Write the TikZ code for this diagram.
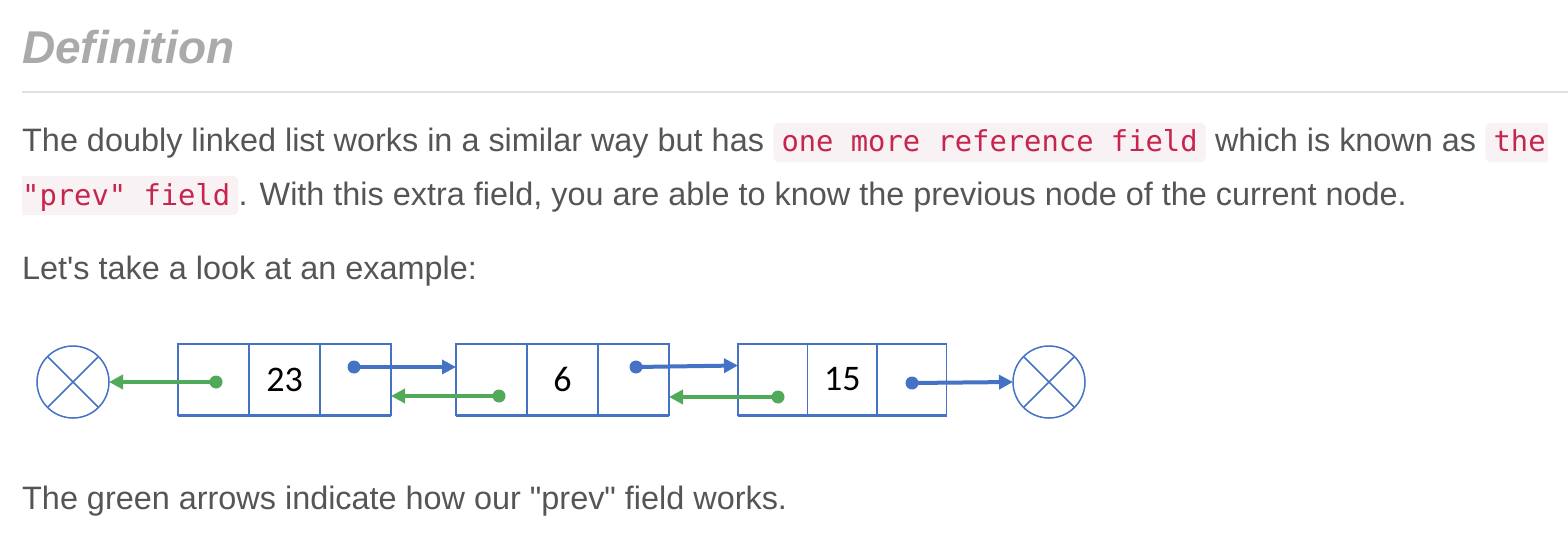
\documentclass[tikz,border=0pt]{standalone}
\usepackage{fontspec}
\usetikzlibrary{arrows.meta,positioning,backgrounds}

\newfontfamily\bodyfont{Liberation Sans}
\newfontfamily\codefont{DejaVu Sans Mono}
\newfontfamily\cellfont{Carlito}

\definecolor{textgray}{RGB}{85,85,85}
\definecolor{headgray}{RGB}{170,170,170}
\definecolor{rulegray}{RGB}{224,224,224}
\definecolor{codered}{RGB}{199,37,78}
\definecolor{codebg}{RGB}{249,242,244}
\definecolor{nodeblue}{RGB}{68,114,196}
\definecolor{prevgreen}{RGB}{80,170,90}

\tikzset{
 txt/.style={anchor=base west, inner sep=0pt, text=textgray, font=\bodyfont\fontsize{32.4}{38}\selectfont},
 chip/.style={anchor=base west, text=codered, inner sep=0pt, text height=29pt, text depth=10pt, font=\codefont\fontsize{28.8}{34}\selectfont},
 chipbg/.style={fill=codebg, rounded corners=6pt},
 cell/.style={draw=nodeblue, line width=1.5pt, minimum width=71pt, minimum height=71pt, inner sep=0pt, outer sep=0pt, font=\cellfont\fontsize{36}{40}\selectfont},
 nullnode/.style={draw=nodeblue, line width=1.5pt, circle, minimum size=72pt, inner sep=0pt, outer sep=0pt},
 nextptr/.style={draw=nodeblue, line width=4pt, -{Triangle[length=14pt,width=14pt]}},
 prevptr/.style={draw=prevgreen, line width=4pt, -{Triangle[length=14pt,width=14pt]}},
}

\begin{document}
\begin{tikzpicture}[x=1pt, y=-1pt]
 \useasboundingbox (0,0) rectangle (1568,540);

 %heading and rule
 \node[anchor=base west, inner sep=0pt, text=headgray, font=\bodyfont\bfseries\itshape\fontsize{46}{50}\selectfont] (title) at (22,64) {Definition};
 \draw[rulegray, line width=2pt] (22,92) -- (1568,92);

 %first paragraph
 \node[txt] (t1) at (22,152) {The doubly linked list works in a similar way but has};
 \node[chip] (k1) at ([xshift=17pt]t1.base east) {one more reference field};
 \node[txt] (t2) at ([xshift=17pt]k1.base east) {which is known as};
 \node[chip] (k2) at ([xshift=17pt]t2.base east) {the};
 \node[chip] (k3) at (22,205) {"prev" field};
 \node[txt] (t3) at ([xshift=8pt]k3.base east) {. With this extra field, you are able to know the previous node of the current node.};

 %code backgrounds (the last one wraps to the next line)
 \begin{scope}[on background layer]
  \fill[chipbg] ([xshift=-8pt]k1.south west) rectangle ([xshift=8pt]k1.north east);
  \begin{scope}
   \clip ([xshift=-8pt]k2.south west) rectangle ([xshift=2pt]k2.north east);
   \fill[chipbg] ([xshift=-8pt]k2.south west) rectangle ([xshift=12pt]k2.north east);
  \end{scope}
  \begin{scope}
   \clip (k3.south west) rectangle ([xshift=8pt]k3.north east);
   \fill[chipbg] ([xshift=-10pt]k3.south west) rectangle ([xshift=8pt]k3.north east);
  \end{scope}
 \end{scope}

 \node[txt] (t4) at (22,279) {Let's take a look at an example:};
 \node[txt] (t5) at (22,509) {The green arrows indicate how our "prev" field works.};

 %null ends
 \node[nullnode] (nl) at (73,382) {};
 \node[nullnode] (nr) at (1049,382) {};
 \draw[nodeblue, line width=1.5pt] (nl.north west) -- (nl.south east);
 \draw[nodeblue, line width=1.5pt] (nl.south west) -- (nl.north east);
 \draw[nodeblue, line width=1.5pt] (nr.north west) -- (nr.south east);
 \draw[nodeblue, line width=1.5pt] (nr.south west) -- (nr.north east);

 %list nodes
 \node[cell] (a1) at (213.5,379.5) {};
 \node[cell, right=0pt of a1] (a2) {23};
 \node[cell, right=0pt of a2] (a3) {};

 \node[cell] (b1) at (491.5,379.5) {};
 \node[cell, right=0pt of b1] (b2) {6};
 \node[cell, right=0pt of b2] (b3) {};

 \node[cell, minimum width=69.5pt] (c1) at (772.75,379.5) {};
 \node[cell, minimum width=69.5pt, right=0pt of c1] (c2) {15};
 \node[cell, minimum width=69.5pt, right=0pt of c2] (c3) {};

 %thick bottom edges
 \draw[nodeblue, line width=3pt] (a1.south west) -- (a3.south east);
 \draw[nodeblue, line width=3pt] (b1.south west) -- (b3.south east);
 \draw[nodeblue, line width=3pt] (c1.south west) -- (c3.south east);

 %dots in the pointer fields
 \coordinate (pa) at (216,382);
 \coordinate (na) at (354,367);
 \coordinate (pb) at (499,396);
 \coordinate (nb) at (636,367);
 \coordinate (pc) at (778,397);
 \coordinate (nc) at (912,383);

 %next pointers
 \draw[nextptr] (na) -- (na -| b1.west);
 \draw[nextptr] (nb) -- ([yshift=1.5pt]nb -| c1.west);
 \draw[nextptr] (nc) -- (nr.west);

 %prev pointers
 \draw[prevptr] (pa) -- (nl.east);
 \draw[prevptr] (pb) -- (pb -| a3.east);
 \draw[prevptr] (pc) -- (pc -| b3.east);

 \fill[nodeblue] (na) circle (6.5pt);
 \fill[nodeblue] (nb) circle (6.5pt);
 \fill[nodeblue] (nc) circle (6.5pt);
 \fill[prevgreen] (pa) circle (6.5pt);
 \fill[prevgreen] (pb) circle (6.5pt);
 \fill[prevgreen] (pc) circle (6.5pt);
\end{tikzpicture}
\end{document}
